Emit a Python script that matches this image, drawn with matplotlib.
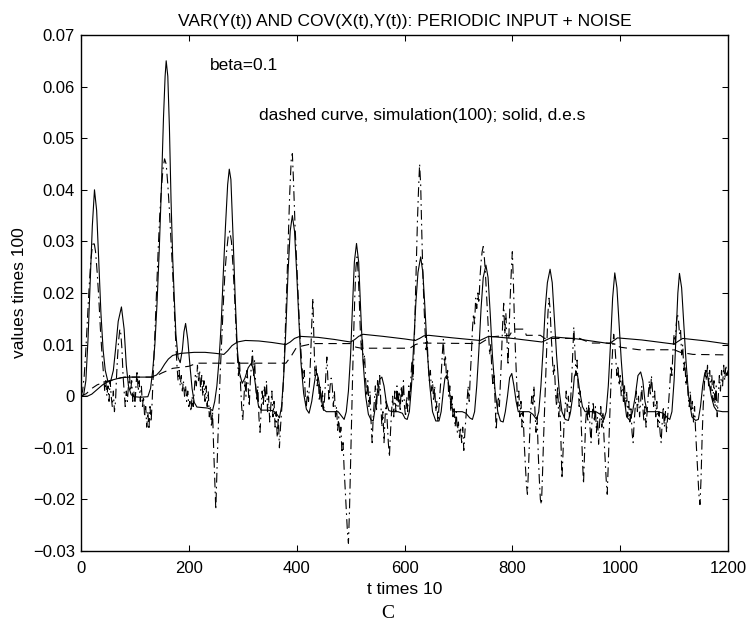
"""VAR(Y(t)) and COV(X(t),Y(t)) plot, periodic input + noise
"""
import matplotlib
matplotlib.use('Agg')
import matplotlib.pyplot as plt

# ---- data (t times 10, values times 100) ----
x_ticks = [0, 200, 400, 600, 800, 1000, 1200]
y_ticks = [-0.03, -0.02, -0.01, 0, 0.01, 0.02, 0.03, 0.04, 0.05, 0.06, 0.07]
y_tick_labels = ['\u22120.03', '\u22120.02', '\u22120.01', '0', '0.01', '0.02',
                 '0.03', '0.04', '0.05', '0.06', '0.07']

# covariance, d.e.s (solid)
des_cov = [
    (0, 0.0), (5, 0.0003), (9, 0.003), (13, 0.011), (17, 0.022), (21, 0.033),
    (25, 0.040), (29, 0.036), (33, 0.026), (37, 0.016), (41, 0.009), (45, 0.005),
    (50, 0.0028), (55, 0.0029), (60, 0.005), (64, 0.009), (69, 0.0145), (75, 0.0173),
    (80, 0.013), (84, 0.006), (88, 0.002), (93, 0.0003), (98, -0.0001), (110, -0.0002),
    (124, -0.0001), (129, 0.0015), (133, 0.005), (137, 0.010), (141, 0.018),
    (145, 0.028), (149, 0.040), (153, 0.054), (156, 0.062), (158, 0.065), (161, 0.062),
    (164, 0.052), (167, 0.038), (170, 0.027), (173, 0.019), (176, 0.012), (180, 0.0075),
    (184, 0.0065), (188, 0.009), (191, 0.0125), (194, 0.0141), (198, 0.011),
    (202, 0.006), (206, 0.0015), (210, -0.0012), (215, -0.0021), (225, -0.0022),
    (235, -0.0023), (240, -0.0025), (244, -0.0028), (248, -0.001), (252, 0.002),
    (256, 0.007), (260, 0.014), (264, 0.024), (268, 0.033), (272, 0.041), (275, 0.044),
    (278, 0.042), (282, 0.031), (286, 0.019), (290, 0.009), (294, 0.0045),
    (299, 0.0025), (304, 0.0035), (310, 0.0055), (316, 0.0064), (320, 0.005),
    (325, 0.001), (329, -0.0018), (334, -0.0027), (345, -0.0027), (356, -0.0028),
    (362, -0.0033), (368, -0.0042), (372, -0.002), (376, 0.004), (380, 0.013),
    (384, 0.024), (388, 0.032), (392, 0.035), (396, 0.032), (400, 0.024),
    (404, 0.015), (408, 0.0065), (413, 0.0005), (418, -0.0025), (423, -0.0033),
    (428, -0.001), (432, 0.002), (435, 0.004), (438, 0.0044), (441, 0.003),
    (445, 0.0), (449, -0.0025), (455, -0.003), (466, -0.003), (477, -0.003),
    (483, -0.0038), (488, -0.0045), (492, -0.003), (496, 0.001), (500, 0.008),
    (503, 0.016), (507, 0.026), (511, 0.0296), (515, 0.026), (519, 0.016),
    (523, 0.007), (528, 0.0), (533, -0.0035), (538, -0.0046), (542, -0.0048),
    (546, -0.002), (550, 0.001), (554, 0.0033), (558, 0.0037), (562, 0.002),
    (566, -0.001), (571, -0.0028), (578, -0.003), (588, -0.003), (596, -0.0033),
    (601, -0.0043), (605, -0.0045), (609, -0.003), (613, 0.002), (617, 0.010),
    (621, 0.018), (625, 0.024), (630, 0.027), (634, 0.024), (638, 0.017),
    (642, 0.009), (647, 0.002), (652, -0.003), (658, -0.0048), (664, -0.0048),
    (668, -0.003), (672, 0.001), (675, 0.0035), (678, 0.004), (681, 0.003),
    (685, -0.0005), (690, -0.003), (698, -0.003), (707, -0.003), (714, -0.0033),
    (721, -0.0042), (726, -0.0045), (730, -0.003), (734, 0.002), (738, 0.009),
    (742, 0.017), (746, 0.023), (751, 0.0254), (755, 0.023), (759, 0.016),
    (763, 0.008), (768, 0.001), (773, -0.003), (778, -0.0048), (783, -0.005),
    (787, -0.003), (791, 0.0), (795, 0.0036), (799, 0.0044), (803, 0.002),
    (807, -0.001), (811, -0.003), (821, -0.003), (831, -0.003), (838, -0.0035),
    (845, -0.0045), (849, -0.003), (853, 0.002), (857, 0.009), (861, 0.017),
    (865, 0.022), (870, 0.0246), (874, 0.022), (878, 0.015), (882, 0.008),
    (887, 0.001), (892, -0.003), (898, -0.0045), (904, -0.0047), (908, -0.003),
    (912, 0.0), (915, 0.0038), (918, 0.0047), (921, 0.004), (925, 0.001),
    (930, -0.002), (935, -0.003), (945, -0.003), (955, -0.003), (963, -0.0035),
    (970, -0.0045), (974, -0.003), (978, 0.002), (982, 0.010), (986, 0.019),
    (990, 0.0239), (994, 0.021), (998, 0.014), (1002, 0.007), (1007, 0.0),
    (1012, -0.004), (1018, -0.0047), (1023, -0.003), (1028, 0.0), (1033, 0.004),
    (1038, 0.0047), (1042, 0.003), (1046, -0.001), (1050, -0.003), (1060, -0.003),
    (1070, -0.003), (1080, -0.0033), (1088, -0.0042), (1092, -0.0045),
    (1096, -0.003), (1100, 0.003), (1104, 0.013), (1107, 0.020), (1110, 0.0238),
    (1114, 0.021), (1118, 0.014), (1122, 0.007), (1127, 0.0), (1133, -0.004),
    (1140, -0.0047), (1145, -0.0045), (1149, -0.002), (1153, 0.002), (1157, 0.0045),
    (1160, 0.005), (1164, 0.003), (1169, 0.0), (1174, -0.002), (1179, -0.0028),
    (1190, -0.003), (1200, -0.003),
]

# covariance, simulation(100) (dash-dot)
sim_cov = [
    (0, 0.0), (3, 0.001), (6, 0.004), (9, 0.009), (12, 0.015), (15, 0.021),
    (18, 0.026), (21, 0.029), (24, 0.030), (27, 0.028), (30, 0.024), (33, 0.019),
    (36, 0.013), (39, 0.008), (42, 0.004), (44, 0.001), (46, 0.003), (48, 0.0),
    (50, 0.002), (52, -0.001), (54, 0.003), (56, 0.0), (58, -0.002), (60, 0.001),
    (62, -0.003), (64, -0.001), (66, 0.004), (68, 0.008), (70, 0.011), (72, 0.013),
    (74, 0.012), (76, 0.009), (78, 0.004), (80, 0.001), (82, -0.002), (84, 0.001),
    (86, -0.001), (88, 0.002), (90, 0.004), (92, 0.001), (94, 0.003), (96, -0.001),
    (98, 0.001), (100, -0.002), (102, 0.002), (104, 0.005), (106, 0.001),
    (108, 0.003), (110, -0.001), (112, 0.002), (114, -0.002), (116, 0.0),
    (118, -0.004), (120, -0.002), (122, -0.006), (124, -0.003), (126, -0.0065),
    (128, -0.002), (130, -0.005), (132, -0.001), (134, 0.004), (137, 0.012),
    (140, 0.020), (143, 0.028), (146, 0.035), (149, 0.040), (152, 0.044),
    (155, 0.046), (158, 0.045), (161, 0.041), (164, 0.036), (167, 0.030),
    (170, 0.024), (173, 0.017), (176, 0.010), (178, 0.006), (180, 0.003),
    (182, 0.005), (184, 0.002), (186, 0.004), (188, 0.001), (190, 0.003),
    (192, 0.0), (194, 0.002), (196, -0.001), (198, 0.001), (200, -0.002),
    (202, -0.001), (204, -0.003), (206, 0.0), (208, -0.002), (210, 0.001),
    (212, 0.004), (214, 0.002), (216, 0.006), (218, 0.003), (220, 0.005),
    (222, 0.001), (224, 0.004), (226, 0.0), (228, 0.003), (230, -0.001),
    (232, 0.002), (234, -0.002), (236, 0.001), (238, -0.004), (240, -0.002),
    (242, -0.006), (244, -0.003), (246, -0.010), (248, -0.016), (250, -0.022),
    (252, -0.015), (254, -0.008), (256, -0.002), (258, 0.004), (261, 0.011),
    (264, 0.018), (267, 0.024), (270, 0.028), (273, 0.031), (276, 0.032),
    (279, 0.030), (282, 0.025), (285, 0.019), (288, 0.012), (290, 0.008),
    (292, 0.004), (294, 0.007), (296, 0.002), (298, -0.002), (300, -0.0047),
    (302, -0.001), (304, 0.003), (306, 0.0), (308, 0.005), (310, 0.002),
    (312, -0.002), (314, 0.003), (316, 0.006), (318, 0.0088), (320, 0.004),
    (322, 0.007), (324, 0.002), (326, -0.001), (328, 0.002), (330, -0.004),
    (332, -0.007), (334, -0.003), (336, 0.001), (338, -0.002), (340, 0.002),
    (342, -0.001), (344, 0.003), (346, -0.003), (348, 0.0), (350, -0.005),
    (352, -0.002), (354, 0.001), (356, -0.004), (358, -0.001), (360, -0.006),
    (362, -0.003), (364, -0.008), (366, -0.004), (368, -0.010), (370, -0.006),
    (372, -0.003), (375, 0.002), (378, 0.010), (381, 0.019), (384, 0.029),
    (387, 0.039), (390, 0.046), (392, 0.047), (394, 0.042), (397, 0.033),
    (400, 0.026), (403, 0.019), (406, 0.012), (409, 0.007), (412, 0.003),
    (414, 0.005), (416, 0.0), (418, -0.002), (420, 0.001), (422, -0.001),
    (424, 0.003), (426, 0.008), (428, 0.014), (430, 0.019), (432, 0.011),
    (434, 0.004), (436, 0.006), (438, 0.002), (440, 0.004), (442, -0.001),
    (444, 0.002), (446, -0.002), (448, 0.001), (450, -0.003), (452, 0.0),
    (454, 0.004), (456, 0.0076), (458, 0.003), (460, -0.001), (462, 0.002),
    (464, 0.0035), (466, 0.002), (468, -0.002), (470, 0.001), (472, -0.004),
    (474, -0.002), (476, -0.0066), (478, -0.004), (480, -0.008), (482, -0.006),
    (484, -0.011), (486, -0.009), (488, -0.014), (490, -0.018), (492, -0.022),
    (494, -0.026), (496, -0.0285), (498, -0.022), (500, -0.013), (502, -0.004),
    (504, 0.005), (506, 0.013), (508, 0.020), (510, 0.025), (512, 0.027),
    (514, 0.024), (516, 0.019), (518, 0.013), (520, 0.009), (522, 0.011),
    (524, 0.006), (526, 0.008), (528, 0.003), (530, 0.0), (532, 0.003),
    (534, -0.002), (536, 0.001), (538, -0.005), (540, -0.009), (542, -0.004),
    (544, -0.001), (546, 0.002), (548, -0.003), (550, 0.003), (552, 0.0),
    (554, 0.004), (556, -0.001), (558, -0.006), (560, -0.003), (562, -0.009),
    (564, -0.004), (566, -0.001), (568, -0.005), (570, -0.009), (572, -0.0118),
    (574, -0.007), (576, -0.003), (578, 0.0), (580, -0.004), (582, 0.001),
    (584, -0.003), (586, 0.002), (588, -0.002), (590, 0.001), (592, -0.003),
    (594, 0.002), (596, -0.001), (598, 0.003), (600, -0.002), (602, -0.004),
    (604, 0.0), (606, -0.003), (608, 0.002), (610, -0.001), (612, 0.004),
    (614, 0.007), (616, 0.003), (618, 0.010), (620, 0.018), (622, 0.026),
    (624, 0.034), (626, 0.040), (628, 0.045), (630, 0.041), (632, 0.032),
    (634, 0.024), (636, 0.018), (638, 0.013), (640, 0.009), (642, 0.011),
    (644, 0.006), (646, 0.003), (648, 0.005), (650, 0.001), (652, 0.003),
    (654, -0.001), (656, 0.002), (658, -0.003), (660, -0.001), (662, -0.005),
    (664, -0.002), (666, 0.001), (668, 0.004), (670, 0.008), (672, 0.011),
    (674, 0.006), (676, 0.008), (678, 0.003), (680, 0.005), (682, 0.0),
    (684, 0.002), (686, -0.003), (688, 0.0), (690, -0.004), (692, -0.002),
    (694, -0.006), (696, -0.003), (698, -0.007), (700, -0.005), (702, -0.008),
    (704, -0.006), (706, -0.009), (708, -0.006), (710, -0.0105), (712, -0.007),
    (714, -0.004), (716, -0.001), (718, 0.002), (720, -0.001), (722, 0.004),
    (724, 0.008), (726, 0.013), (728, 0.016), (730, 0.014), (732, 0.019),
    (734, 0.017), (736, 0.020), (738, 0.018), (740, 0.023), (742, 0.026),
    (744, 0.028), (746, 0.029), (748, 0.027), (750, 0.024), (752, 0.020),
    (754, 0.016), (756, 0.012), (758, 0.008), (760, 0.010), (762, 0.005),
    (764, 0.002), (766, 0.004), (768, -0.001), (770, -0.0066), (772, -0.003),
    (774, 0.0), (776, -0.002), (778, 0.003), (780, 0.008), (782, 0.014),
    (784, 0.018), (786, 0.012), (788, 0.016), (790, 0.011), (792, 0.006),
    (794, 0.013), (796, 0.019), (798, 0.024), (800, 0.028), (802, 0.022),
    (804, 0.014), (806, 0.008), (808, 0.003), (810, -0.002), (812, 0.001),
    (814, -0.004), (816, -0.001), (818, -0.006), (820, -0.003), (822, -0.009),
    (824, -0.013), (826, -0.017), (828, -0.019), (830, -0.014), (832, -0.008),
    (834, -0.003), (836, 0.0), (838, -0.002), (840, 0.002), (842, -0.003),
    (844, -0.007), (846, -0.004), (848, -0.011), (850, -0.016), (852, -0.020),
    (854, -0.021), (856, -0.015), (858, -0.008), (860, -0.002), (862, 0.004),
    (864, 0.010), (866, 0.016), (868, 0.019), (870, 0.017), (872, 0.012),
    (874, 0.008), (876, 0.004), (878, 0.006), (880, 0.001), (882, -0.002),
    (884, 0.002), (886, -0.004), (888, -0.001), (890, -0.008), (892, -0.016),
    (894, -0.011), (896, -0.005), (898, -0.002), (900, 0.001), (902, -0.003),
    (904, 0.0), (906, -0.004), (908, -0.001), (910, 0.003), (912, 0.008),
    (914, 0.0134), (916, 0.009), (918, 0.004), (920, 0.007), (922, 0.002),
    (924, -0.002), (926, 0.001), (928, -0.006), (930, -0.012), (932, -0.017),
    (934, -0.011), (936, -0.005), (938, -0.002), (940, -0.005), (942, -0.001),
    (944, -0.006), (946, -0.009), (948, -0.004), (950, -0.001), (952, -0.005),
    (954, -0.002), (956, -0.007), (958, -0.004), (960, -0.0093), (962, -0.005),
    (964, -0.002), (966, -0.006), (968, -0.003), (970, -0.008), (972, -0.012),
    (974, -0.016), (976, -0.019), (978, -0.013), (980, -0.006), (982, 0.0),
    (984, 0.005), (986, 0.009), (988, 0.012), (990, 0.010), (992, 0.007),
    (994, 0.004), (996, 0.006), (998, 0.002), (1000, 0.004), (1002, 0.0),
    (1004, 0.003), (1006, -0.001), (1008, 0.002), (1010, -0.002), (1012, 0.001),
    (1014, -0.004), (1016, -0.001), (1018, -0.005), (1020, -0.002), (1022, -0.007),
    (1024, -0.009), (1026, -0.005), (1028, -0.002), (1030, 0.001), (1032, -0.003),
    (1034, 0.0), (1036, -0.004), (1038, -0.001), (1040, 0.002), (1042, -0.002),
    (1044, -0.005), (1046, -0.002), (1048, -0.006), (1050, -0.003), (1052, 0.0),
    (1054, 0.003), (1056, 0.0), (1058, 0.004), (1060, 0.001), (1062, -0.002),
    (1064, 0.001), (1066, -0.004), (1068, -0.001), (1070, -0.006), (1072, -0.003),
    (1074, -0.007), (1076, -0.009), (1078, -0.005), (1080, -0.002), (1082, -0.006),
    (1084, -0.003), (1086, -0.007), (1088, -0.004), (1090, -0.001), (1092, 0.002),
    (1094, 0.006), (1096, 0.004), (1098, 0.009), (1100, 0.012), (1102, 0.010),
    (1104, 0.014), (1106, 0.016), (1108, 0.015), (1110, 0.012), (1112, 0.013),
    (1114, 0.008), (1116, 0.010), (1118, 0.005), (1120, 0.007), (1122, 0.002),
    (1124, 0.004), (1126, 0.0), (1128, -0.002), (1130, 0.001), (1132, -0.003),
    (1134, -0.001), (1136, -0.005), (1138, -0.002), (1140, -0.007), (1142, -0.011),
    (1144, -0.015), (1146, -0.019), (1148, -0.021), (1150, -0.016), (1152, -0.008),
    (1154, -0.002), (1156, 0.002), (1158, 0.005), (1160, 0.003), (1162, 0.006),
    (1164, 0.002), (1166, 0.005), (1168, 0.001), (1170, 0.004), (1172, -0.001),
    (1174, 0.003), (1176, -0.002), (1178, 0.002), (1180, -0.004), (1182, 0.0),
    (1184, 0.004), (1186, 0.001), (1188, 0.005), (1190, 0.002), (1192, 0.006),
    (1194, 0.003), (1196, 0.006), (1198, 0.004), (1200, 0.005),
]

# variance, d.e.s (solid)
des_var = [
    (0, 0.0), (12, 0.0), (20, 0.0004), (30, 0.0013), (40, 0.0022), (50, 0.0028),
    (60, 0.0032), (75, 0.0036), (90, 0.0037), (130, 0.0037), (140, 0.0041),
    (148, 0.0050), (155, 0.0062), (162, 0.0072), (170, 0.0079), (185, 0.0083),
    (210, 0.0085), (230, 0.0085), (250, 0.0083), (265, 0.0081), (272, 0.0088),
    (280, 0.0098), (290, 0.0105), (305, 0.0108), (330, 0.0107), (355, 0.0104),
    (380, 0.0100), (388, 0.0105), (396, 0.0112), (406, 0.0116), (440, 0.0114),
    (470, 0.0110), (500, 0.0105), (508, 0.0110), (515, 0.0116), (523, 0.0120),
    (560, 0.0116), (600, 0.0111), (620, 0.0108), (628, 0.0112), (636, 0.0117),
    (645, 0.0118), (690, 0.0113), (740, 0.0108), (748, 0.0112), (756, 0.0116),
    (800, 0.0112), (855, 0.0105), (865, 0.0110), (875, 0.0115), (920, 0.0111),
    (980, 0.0102), (987, 0.0107), (995, 0.0113), (1040, 0.0109), (1100, 0.0101),
    (1107, 0.0106), (1116, 0.0112), (1160, 0.0107), (1200, 0.0101),
]

# variance, simulation(100) (dashed)
sim_var = [
    (0, 0.0), (10, 0.0005), (20, 0.0015), (30, 0.0022), (45, 0.0028), (60, 0.0032),
    (80, 0.0037), (135, 0.0037), (150, 0.0045), (170, 0.0054), (200, 0.0058),
    (215, 0.0064), (380, 0.0064), (390, 0.0078), (400, 0.0095), (430, 0.0102),
    (500, 0.0102), (510, 0.0095), (520, 0.0093), (610, 0.0093), (620, 0.0100),
    (630, 0.0103), (740, 0.0102), (760, 0.0115), (795, 0.0118), (802, 0.0130),
    (822, 0.0130), (826, 0.0118), (852, 0.0118), (860, 0.0112), (925, 0.0112),
    (945, 0.0103), (985, 0.0103), (1000, 0.0095), (1035, 0.0090), (1100, 0.0090),
    (1112, 0.0085), (1135, 0.0081), (1200, 0.0080),
]

plt.rcParams['font.family'] = ['Liberation Sans', 'DejaVu Sans']
plt.rcParams['lines.scale_dashes'] = False

fig = plt.figure(figsize=(7.48, 6.25), dpi=100)
ax = fig.add_axes([81 / 748, 74 / 625, 647 / 748, 516 / 625])

lw = 0.8
t, v = zip(*sim_cov)
ax.plot(t, v, color='black', lw=lw, dashes=[7, 3, 1.2, 3])
t, v = zip(*des_cov)
ax.plot(t, v, color='black', lw=lw)
t, v = zip(*sim_var)
ax.plot(t, v, color='black', lw=lw, dashes=[6, 4])
t, v = zip(*des_var)
ax.plot(t, v, color='black', lw=lw)

ax.set_xlim(0, 1200)
ax.set_ylim(-0.03, 0.07)
ax.set_xticks(x_ticks)
ax.set_yticks(y_ticks, y_tick_labels)
ax.tick_params(direction='in', length=4.3, width=0.75, top=True, right=True,
               labelsize=12)
ax.tick_params(axis='x', pad=7.5)
ax.tick_params(axis='y', pad=4.3)
for s in ax.spines.values():
    s.set_linewidth(1.0)

ax.set_title('VAR(Y(t)) AND COV(X(t),Y(t)): PERIODIC INPUT + NOISE',
             fontsize=12.5, pad=6.5)
ax.set_xlabel('t times 10', fontsize=12.5, labelpad=4)
ax.set_ylabel('values times 100', fontsize=12.5)

ax.text(240, 0.0632, 'beta=0.1', fontsize=12.5, va='baseline')
ax.text(330, 0.0535, 'dashed curve, simulation(100); solid, d.e.s',
        fontsize=12.5, va='baseline')

fig.text(388 / 748, 1 - 614 / 625, 'C', family=['Liberation Serif', 'DejaVu Serif'],
         fontsize=14, ha='center', va='center')

fig.savefig('out.png', dpi=100)
